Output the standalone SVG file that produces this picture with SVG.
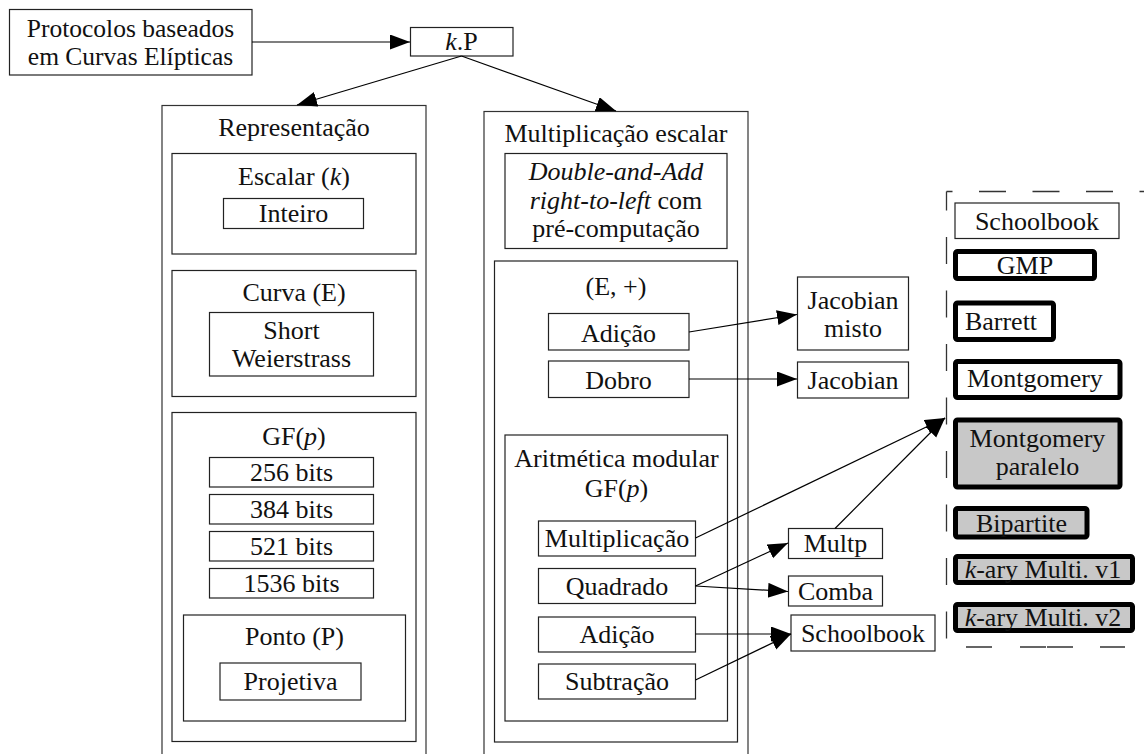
<svg xmlns="http://www.w3.org/2000/svg" width="1144" height="754" viewBox="0 0 1144 754">
<defs>
<style>
text{font-family:"Liberation Serif","Times New Roman",serif;font-size:26px;fill:#111;text-anchor:middle}
.i{font-style:italic}
.b{fill:#fff;stroke:#222;stroke-width:1.2}
.o{fill:none;stroke:#333;stroke-width:1.2}
.t{fill:#fff;stroke:#000;stroke-width:5}
.g{fill:#c8c8c8;stroke:#000;stroke-width:5}
.c{fill:none;stroke:#000;stroke-width:1.2;marker-end:url(#ah)}
.d{fill:none;stroke:#333;stroke-width:1.3}
</style>
<marker id="ah" markerUnits="userSpaceOnUse" markerWidth="22" markerHeight="17" refX="20" refY="7.5" orient="auto"><path d="M0,0 L20,7.5 L0,15 z" fill="#000"/></marker>
</defs>
<rect width="1144" height="754" fill="#fff"/>

<g id="protocolos"><rect class="b" x="9.5" y="9.5" width="242.5" height="65.5"/><text x="130.5" y="37" style="font-size:25.5px">Protocolos baseados</text><text x="130.5" y="64.5" style="font-size:25.5px">em Curvas Elípticas</text></g>
<g id="kP"><rect class="b" x="410.5" y="27.5" width="102.5" height="28.5"/><text x="461.5" y="50"><tspan class="i">k</tspan>.P</text></g>

<g id="representacao"><rect class="o" x="162" y="105.5" width="264" height="700"/><text x="294" y="136">Representação</text></g>
<g id="escalar"><rect class="b" x="172" y="153.5" width="244" height="100.5"/><text x="294" y="185">Escalar (<tspan class="i">k</tspan>)</text></g>
<g id="inteiro"><rect class="b" x="223.5" y="198.5" width="140" height="30"/><text x="293.5" y="222">Inteiro</text></g>
<g id="curva"><rect class="b" x="172" y="270.5" width="244" height="126"/><text x="294" y="301">Curva (E)</text></g>
<g id="weierstrass"><rect class="b" x="209.5" y="312.5" width="164" height="63.5"/><text x="291.5" y="338.5">Short</text><text x="291.5" y="366.5">Weierstrass</text></g>
<g id="gfp"><rect class="b" x="172" y="412.5" width="244" height="329"/><text x="294" y="445">GF(<tspan class="i">p</tspan>)</text></g>
<g id="b256"><rect class="b" x="209.5" y="457.5" width="164" height="29.5"/><text x="291.5" y="481">256 bits</text></g>
<g id="b384"><rect class="b" x="209.5" y="494.5" width="164" height="29.5"/><text x="291.5" y="518">384 bits</text></g>
<g id="b521"><rect class="b" x="209.5" y="531.5" width="164" height="29.5"/><text x="291.5" y="555">521 bits</text></g>
<g id="b1536"><rect class="b" x="209.5" y="568.5" width="164" height="29.5"/><text x="291.5" y="592">1536 bits</text></g>
<g id="ponto"><rect class="b" x="183.5" y="615" width="222" height="106"/><text x="294.5" y="645">Ponto (P)</text></g>
<g id="projetiva"><rect class="b" x="220" y="663" width="141" height="37"/><text x="290.5" y="690">Projetiva</text></g>

<g id="multiplicacao-escalar"><rect class="o" x="484" y="111.5" width="264" height="700"/><text x="616" y="142">Multiplicação escalar</text></g>
<g id="double-and-add"><rect class="b" x="505" y="153.5" width="222" height="95"/><text x="616" y="180" class="i">Double-and-Add</text><text x="616" y="208.5"><tspan class="i">right-to-left</tspan> com</text><text x="616" y="237">pré-computação</text></g>
<g id="grupo"><rect class="b" x="494.5" y="261" width="243" height="481"/><text x="616" y="295">(E, +)</text></g>
<g id="adicao-ponto"><rect class="b" x="548.5" y="313.5" width="140.5" height="36.5"/><text x="618.5" y="341.5">Adição</text></g>
<g id="dobro"><rect class="b" x="548.5" y="361" width="140.5" height="36.5"/><text x="618.5" y="388.5">Dobro</text></g>
<g id="aritmetica"><rect class="b" x="505" y="435" width="222.5" height="286"/><text x="616.5" y="467">Aritmética modular</text><text x="616.5" y="497">GF(<tspan class="i">p</tspan>)</text></g>
<g id="multiplicacao"><rect class="b" x="538.5" y="521" width="157" height="35"/><text x="617" y="547">Multiplicação</text></g>
<g id="quadrado"><rect class="b" x="538.5" y="568.5" width="157" height="35"/><text x="617" y="594.5">Quadrado</text></g>
<g id="adicao-mod"><rect class="b" x="538.5" y="617" width="157" height="35"/><text x="617" y="643">Adição</text></g>
<g id="subtracao"><rect class="b" x="538.5" y="664" width="157" height="35"/><text x="617" y="690">Subtração</text></g>

<g id="jacobian-misto"><rect class="b" x="797.5" y="277" width="111" height="73"/><text x="853" y="308.5">Jacobian</text><text x="853" y="337">misto</text></g>
<g id="jacobian"><rect class="b" x="797.5" y="362" width="111" height="36"/><text x="853" y="388.5">Jacobian</text></g>
<g id="multp"><rect class="b" x="788.5" y="528.5" width="94" height="30"/><text x="835.5" y="552">Multp</text></g>
<g id="comba"><rect class="b" x="788.5" y="576" width="94" height="30"/><text x="835.5" y="599.5">Comba</text></g>
<g id="schoolbook-add"><rect class="b" x="791" y="615" width="144" height="36"/><text x="863" y="641.5">Schoolbook</text></g>

<g id="grupo-reducao">
<path class="d" d="M946.5,191.5 H1144" stroke-dasharray="27 26.5" stroke-dashoffset="21"/>
<path class="d" d="M946.5,191.5 V640" stroke-dasharray="27 26.5" stroke-dashoffset="8"/>
<path class="d" d="M966,647 H992 M1020,647 H1046 M1047,647 H1073 M1100,647 H1125"/>
</g>
<g id="schoolbook-mult"><rect class="b" x="955" y="203" width="164" height="35.5"/><text x="1037" y="229.5">Schoolbook</text></g>
<g id="gmp"><rect class="t" x="955.5" y="251.5" width="139" height="27" rx="2"/><text x="1025" y="274">GMP</text></g>
<g id="barrett"><rect class="t" x="955.5" y="303" width="98" height="36.5" rx="2"/><text x="1001" y="329.5">Barrett</text></g>
<g id="montgomery"><rect class="t" x="955.5" y="361.5" width="164.5" height="36" rx="2"/><text x="1035" y="387">Montgomery</text></g>
<g id="montgomery-paralelo"><rect class="g" x="955.5" y="420" width="164.5" height="67" rx="2"/><text x="1037.5" y="447">Montgomery</text><text x="1037.5" y="475">paralelo</text></g>
<g id="bipartite"><rect class="g" x="955.5" y="508.5" width="131.5" height="28.5" rx="2"/><text x="1021.5" y="532">Bipartite</text></g>
<g id="kary-v1"><rect class="g" x="955.5" y="556.5" width="177" height="26" rx="2"/><text x="1043" y="578"><tspan class="i">k</tspan>-ary Multi. v1</text></g>
<g id="kary-v2"><rect class="g" x="955.5" y="604.5" width="177" height="26" rx="2"/><text x="1043" y="626"><tspan class="i">k</tspan>-ary Multi. v2</text></g>

<g id="connectors">
<path class="c" d="M252,42 L410,42"/>
<path class="c" d="M461.5,56 L297,105"/>
<path class="c" d="M461.5,56 L616,111"/>
<path class="c" d="M689,332 L797,314.5"/>
<path class="c" d="M689,379 L797,379"/>
<path class="c" d="M695.5,538 L945,418"/>
<path class="c" d="M835,528.5 L945,418"/>
<path class="c" d="M695.5,586 L788,543"/>
<path class="c" d="M695.5,586 L788,591.5"/>
<path class="c" d="M695.5,634 L791,634"/>
<path class="c" d="M695.5,680 L791,634"/>
</g>
</svg>
